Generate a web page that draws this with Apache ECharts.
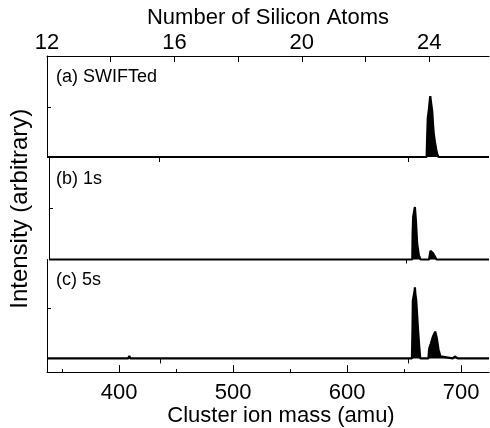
<!DOCTYPE html>
<html><head><meta charset="utf-8">
<script src="https://cdn.jsdelivr.net/npm/echarts@6/dist/echarts.min.js"></script>
<style>html,body{margin:0;padding:0;background:#fff}#c{width:490px;height:428px}</style>
</head><body><div id="c"></div>
<script>
// Panel (a) SWIFTed
const massA = [336.8, 396.0, 396.5, 397.0, 408.0, 409.0, 410.0, 669.8, 670.2, 670.8, 671.8, 672.5, 673.0, 673.6, 674.7, 675.4, 676.1, 677.2, 678.2, 679.0, 679.6, 680.2, 724.5];
const intensityA = [0, 0, 0.02, 0, 0, 0.04, 0, 0, 0.35, 0.78, 0.95, 1.12, 1.22, 1.1, 0.91, 0.65, 0.45, 0.28, 0.15, 0.06, 0.02, 0, 0];
// Panel (b) 1s
const massB = [336.8, 656.9, 657.2, 657.7, 659.2, 660.1, 661.2, 662.7, 664.2, 671.7, 672.9, 673.8, 675.2, 677.3, 678.2, 724.5];
const intensityB = [0, 0, 0.5, 0.84, 1.03, 0.76, 0.31, 0.08, 0, 0, 0.17, 0.2, 0.12, 0.04, 0, 0];
// Panel (c) 5s
const massC = [336.8, 408.0, 409.0, 410.0, 423.5, 424.5, 425.5, 630.5, 631.5, 632.5, 656.9, 657.4, 657.7, 658.6, 659.2, 659.5, 659.9, 660.7, 662.1, 663.3, 664.2, 671.4, 671.8, 672.3, 673.5, 675.2, 677.3, 678.7, 680.2, 681.9, 682.6, 692.7, 694.5, 697.0, 724.5];
const intensityC = [0, 0, 0.05, 0, 0, 0.02, 0, 0, 0.02, 0, 0, 0.6, 1.16, 1.2, 1.35, 1.43, 1.3, 1.16, 0.63, 0.24, 0, 0, 0.15, 0.22, 0.3, 0.43, 0.54, 0.41, 0.18, 0.04, 0, 0, 0.04, 0, 0];

const panelLabels = ['(a) SWIFTed', '(b) 1s', '(c) 5s'];
const atomTicks = [12, 14, 16, 18, 20, 22, 24];
const atomLabels = [12, 16, 20, 24];
const massMajor = [400, 500, 600, 700];
const massMinor = [350, 450, 550, 650];
const panelTicksA = [435.3, 653.3];
const panelTicksB = [651.9];
const panelTicksC = [435.9, 653.6];
const yTick = [1];

const FONT = "'Liberation Sans', Arial, sans-serif";
const massMin = 336.8, massMax = 724.5;
const atomMin = 12, atomMax = 25.88;

const chart = echarts.init(document.getElementById('c'), null, {renderer: 'canvas'});
const pairs = (m, v) => m.map((x, i) => [x, v[i]]);
const black = {color: '#000', width: 1};

function massAxis(grid, extra) {
  return Object.assign({
    type: 'value', gridIndex: grid, min: massMin, max: massMax, position: 'bottom',
    axisLine: {show: false}, splitLine: {show: false}, axisLabel: {show: false},
    axisTick: {show: false}
  }, extra);
}
function yAxis(grid, min, max, extra) {
  return Object.assign({
    type: 'value', gridIndex: grid, min: min, max: max,
    axisLine: {show: true, onZero: false, lineStyle: black},
    axisTick: {show: true, inside: true, length: 4, customValues: yTick, lineStyle: black},
    axisLabel: {show: false}, splitLine: {show: false}
  }, extra);
}
function series(x, y, m, v) {
  return {
    type: 'line', xAxisIndex: x, yAxisIndex: y, data: pairs(m, v), symbol: 'none',
    clip: false, lineStyle: {color: '#000', width: 2.2}, areaStyle: {color: '#000', opacity: 1},
    silent: true, animation: false
  };
}

const option = {
  backgroundColor: '#fff',
  animation: false,
  title: panelLabels.map((t, i) => ({
    text: t, left: 56, top: [68, 170, 271][i],
    textStyle: {fontFamily: FONT, fontSize: 18, fontWeight: 'normal', color: '#000'}, padding: 0
  })),
  grid: [
    {left: 47, top: 56, width: 442, height: 101},
    {left: 47, top: 158, width: 442, height: 101.5},
    {left: 47, top: 259.5, width: 442, height: 115.5}
  ],
  xAxis: [
    massAxis(0, {axisTick: {show: true, customValues: panelTicksA, length: 5, inside: false, lineStyle: black}}),
    {
      type: 'value', gridIndex: 0, position: 'top', min: atomMin, max: atomMax,
      name: 'Number of Silicon Atoms', nameLocation: 'middle', nameGap: 27,
      nameTextStyle: {fontFamily: FONT, fontSize: 22, color: '#000'},
      axisLine: {show: true, onZero: false, lineStyle: black},
      axisTick: {show: true, inside: true, length: 6, customValues: atomTicks, lineStyle: black},
      axisLabel: {show: true, customValues: atomLabels, margin: 2, fontFamily: FONT, fontSize: 22, color: '#000'},
      splitLine: {show: false}
    },
    massAxis(1, {axisTick: {show: true, customValues: panelTicksB, length: 4, inside: false, lineStyle: black}}),
    massAxis(2, {
      name: 'Cluster ion mass (amu)', nameLocation: 'middle', nameGap: 27,
      nameTextStyle: {fontFamily: FONT, fontSize: 22, color: '#000', padding: [0, 0, 0, 26]},
      axisLine: {show: true, onZero: false, lineStyle: black},
      axisTick: {show: true, inside: true, length: 7, customValues: massMajor, lineStyle: black},
      axisLabel: {show: true, customValues: massMajor, margin: 10, fontFamily: FONT, fontSize: 22, color: '#000'}
    }),
    massAxis(2, {
      axisLine: {show: false, onZero: false},
      axisTick: {show: true, inside: true, length: 3, customValues: massMinor, lineStyle: black}
    }),
    massAxis(2, {
      axisLine: {show: false, onZero: true},
      axisTick: {show: true, inside: false, length: 5, customValues: panelTicksC, lineStyle: black}
    })
  ],
  yAxis: [
    yAxis(0, 0, 2.02),
    yAxis(1, 0, 1.99, {
      name: 'Intensity (arbitrary)', nameLocation: 'middle', nameGap: 17,
      nameTextStyle: {fontFamily: FONT, fontSize: 24, color: '#000'}
    }),
    yAxis(2, -0.275, 1.99)
  ],
  series: [
    series(0, 0, massA, intensityA),
    series(2, 1, massB, intensityB),
    series(3, 2, massC, intensityC)
  ]
};
chart.setOption(option);
</script>
</body></html>
